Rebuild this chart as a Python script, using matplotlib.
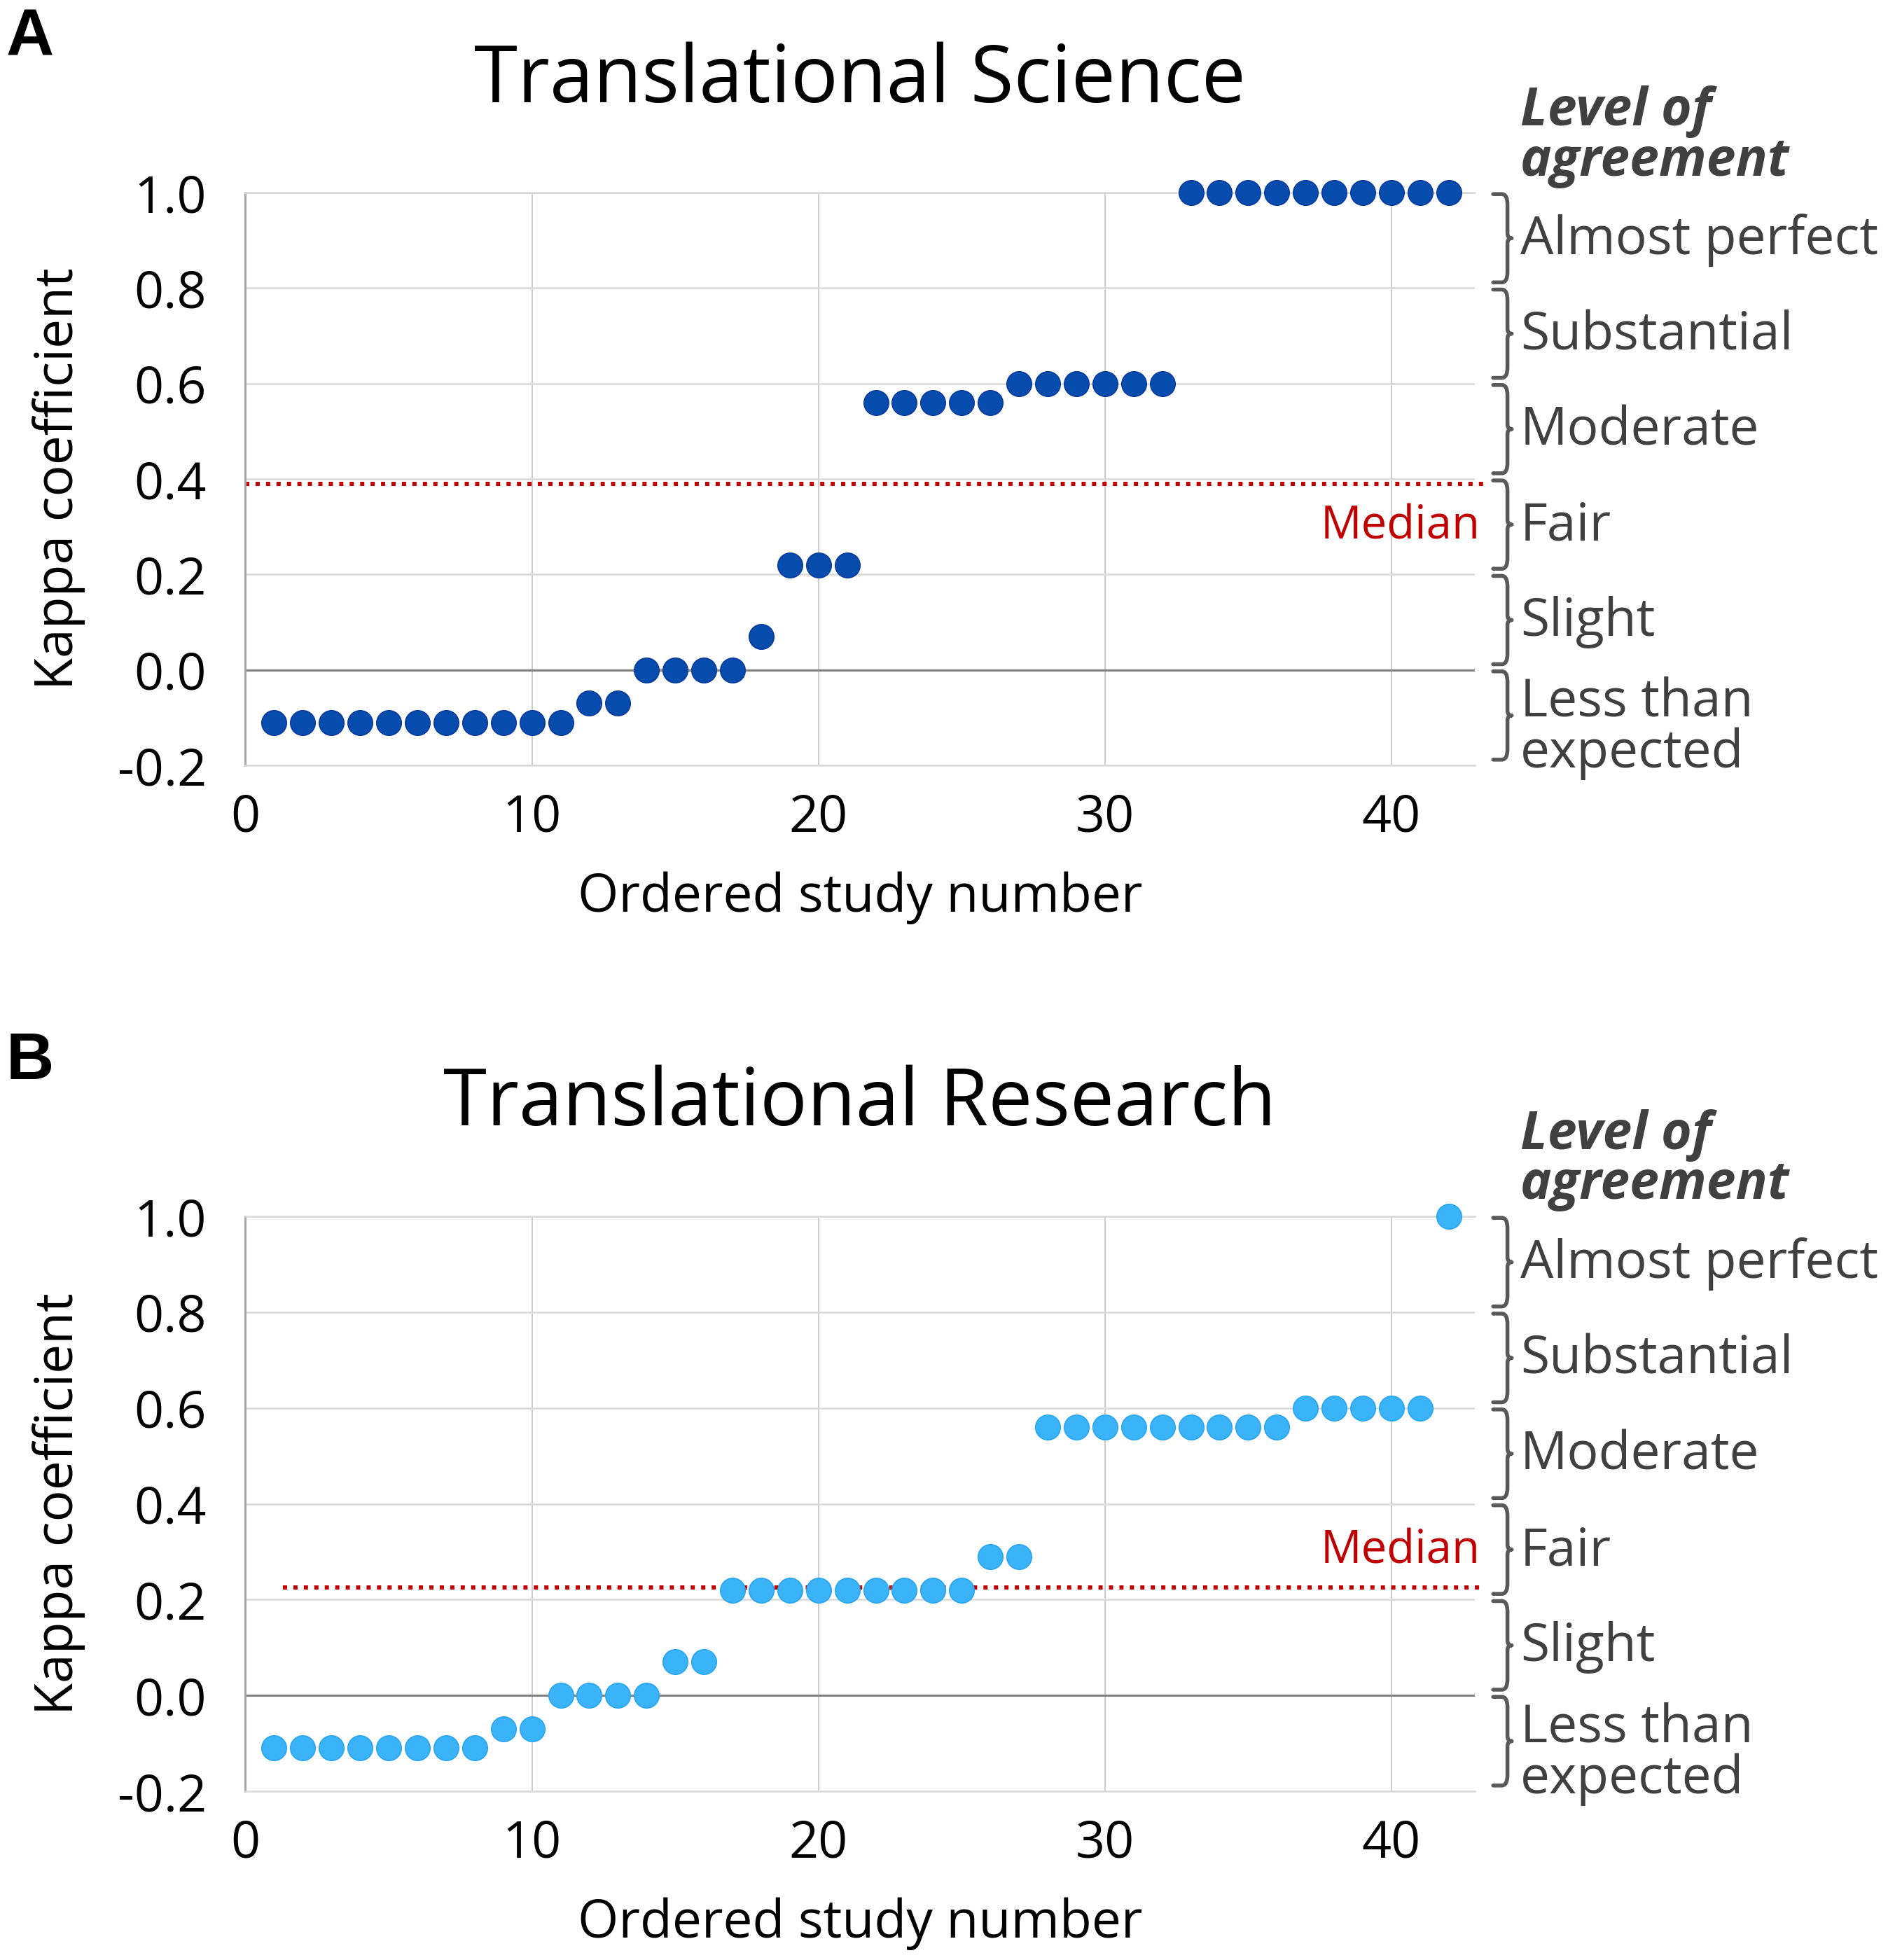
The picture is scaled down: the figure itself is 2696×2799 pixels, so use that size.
import matplotlib
matplotlib.use("Agg")
import matplotlib.pyplot as plt
from matplotlib.path import Path
from matplotlib.patches import PathPatch

plt.rcParams['font.family'] = ['Open Sans', 'DejaVu Sans']

# ordered study number (1..42) and kappa values
study = list(range(1, 43))
kappa_science = [-0.11, -0.11, -0.11, -0.11, -0.11, -0.11, -0.11, -0.11, -0.11, -0.11,
                 -0.11, -0.07, -0.07, 0.0, 0.0, 0.0, 0.0, 0.07, 0.22, 0.22,
                 0.22, 0.56, 0.56, 0.56, 0.56, 0.56, 0.60, 0.60, 0.60, 0.60,
                 0.60, 0.60, 1.0, 1.0, 1.0, 1.0, 1.0, 1.0, 1.0, 1.0,
                 1.0, 1.0]
kappa_research = [-0.11, -0.11, -0.11, -0.11, -0.11, -0.11, -0.11, -0.11, -0.07, -0.07,
                  0.0, 0.0, 0.0, 0.0, 0.07, 0.07, 0.22, 0.22, 0.22, 0.22,
                  0.22, 0.22, 0.22, 0.22, 0.22, 0.29, 0.29, 0.56, 0.56, 0.56,
                  0.56, 0.56, 0.56, 0.56, 0.56, 0.56, 0.60, 0.60, 0.60, 0.60,
                  0.60, 1.0]
median_science = 0.39
median_research = 0.225
median_start = [0.0, 1.3]

titles = ["Translational Science", "Translational Research"]
panel_letters = ["A", "B"]
yticks = [-0.2, 0.0, 0.2, 0.4, 0.6, 0.8, 1.0]
ytick_labels = ["-0.2", "0.0", "0.2", "0.4", "0.6", "0.8", "1.0"]
xticks = [0, 10, 20, 30, 40]
band_bottoms = [0.8, 0.6, 0.4, 0.2, 0.0, -0.2]
band_labels = ["Almost perfect", "Substantial", "Moderate", "Fair", "Slight", "Less than\nexpected"]
band_label_y = [0.9, 0.7, 0.5, 0.3, 0.1, -0.122]

colors = ["#064CAD", "#3BB3F9"]
edge_colors = ["#0A3C9E", "#2AA6F0"]
red = "#C00000"
gray_txt = "#404040"
FS = 54


def bracket(ax, y0, y1):
    # curly-ish bracket on the right of the plot, x in data units
    xl, xv, xb = 43.55, 44.05, 44.2
    r = 0.022
    ym = (y0 + y1) / 2
    verts = [(xl, y1), (xv - 0.2, y1), (xv, y1), (xv, y1 - r),
             (xv, ym + 0.01), (xv, ym), (xb, ym), (xv, ym), (xv, ym - 0.01),
             (xv, y0 + r), (xv, y0), (xv - 0.2, y0), (xl, y0)]
    codes = [Path.MOVETO, Path.LINETO, Path.CURVE3, Path.CURVE3,
             Path.LINETO, Path.CURVE3, Path.CURVE3, Path.CURVE3, Path.CURVE3,
             Path.LINETO, Path.CURVE3, Path.CURVE3, Path.LINETO]
    p = PathPatch(Path(verts, codes), fill=False, edgecolor="#595959", lw=4.0,
                  capstyle="round", joinstyle="round", clip_on=False)
    ax.add_patch(p)


fig = plt.figure(figsize=(26.96, 27.99), dpi=100)
axA = fig.add_axes([0.130, 0.6095, 0.651, 0.2922])
axB = fig.add_axes([0.130, 0.0861, 0.651, 0.2933])

for i, (ax, kappa, med) in enumerate([(axA, kappa_science, median_science),
                                      (axB, kappa_research, median_research)]):
    ax.set_xlim(0, 42.9)
    ax.set_ylim(-0.2, 1.0)
    ax.set_yticks(yticks)
    ax.set_yticklabels(ytick_labels)
    ax.set_xticks(xticks)
    ax.tick_params(length=0, labelsize=53, colors="black")
    ax.tick_params(axis="y", pad=40)
    ax.tick_params(axis="x", pad=28)
    ax.grid(axis="y", color="#d9d9d9", lw=1.8)
    ax.grid(axis="x", color="#c4c4c4", lw=1.2)
    ax.set_axisbelow(True)
    for s in ["top", "bottom"]:
        ax.spines[s].set_color("#d9d9d9")
        ax.spines[s].set_linewidth(1.8)
    ax.spines["right"].set_visible(False)
    ax.spines["left"].set_color("#a6a6a6")
    ax.spines["left"].set_linewidth(2.2)
    ax.axhline(0, color="#808080", lw=2.2, zorder=1.5)

    ax.plot([median_start[i], 43.2], [med, med], color=red, lw=4.3,
            linestyle=(0, (1, 1.5)), dash_capstyle="butt", clip_on=False, zorder=2)
    ax.scatter(study, kappa, s=650, color=colors[i], edgecolors=edge_colors[i],
               linewidths=1.2, zorder=3, clip_on=False)
    ax.text(43.1, 0.30, "Median", color=red, fontsize=47, ha="right", va="center")

    ax.set_xlabel("Ordered study number", fontsize=FS)
    ax.xaxis.label.set_va("center")
    ax.xaxis.set_label_coords(0.5, -0.231)
    ax.set_ylabel("Kappa coefficient", fontsize=FS)
    ax.yaxis.label.set_va("center")
    ax.yaxis.set_label_coords(-0.152, 0.5)

    ax.text(0.5, 1.158, titles[i], transform=ax.transAxes, fontsize=81,
            ha="center", va="baseline")
    ax.text(-0.195, 1.269, panel_letters[i], transform=ax.transAxes, fontsize=68,
            fontweight="bold", family="Liberation Sans", ha="left", va="center")

    for yb, yl, lab in zip(band_bottoms, band_label_y, band_labels):
        bracket(ax, yb + 0.012, yb + 0.197)
        ax.text(44.5, yl, lab, fontsize=FS, color=gray_txt, ha="left",
                va="center", linespacing=0.96)
    ax.text(44.5, 1.117, "Level of\nagreement", fontsize=FS, color=gray_txt,
            fontweight="bold", style="italic", ha="left", va="center",
            linespacing=0.94)

fig.savefig("out.png", dpi=100)
